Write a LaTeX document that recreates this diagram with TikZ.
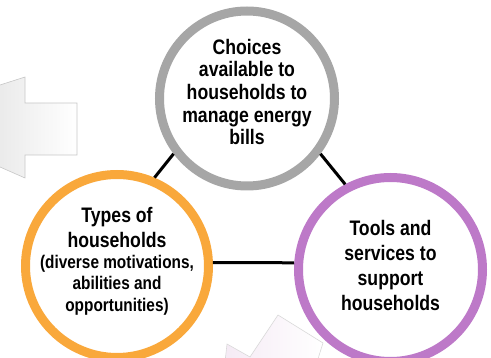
\documentclass[tikz,border=0pt]{standalone}
\usepackage{fontspec}
\setmainfont{Liberation Sans}[FakeStretch=0.84]
\definecolor{cgray}{HTML}{A6A6A6}
\definecolor{corange}{HTML}{F9A83B}
\definecolor{cpurple}{HTML}{BD79C8}
\begin{document}
\begin{tikzpicture}[x=1pt,y=-1pt,
  ring/.style={circle, line width=9pt, fill=white, inner sep=0pt},
  label/.style={align=center, inner sep=0pt, font=\bfseries\fontsize{21}{22.7}\selectfont},
  link/.style={line width=3pt, black},
  ghost/.style={draw=black!22, line width=0.6pt}]
\useasboundingbox (0,0) rectangle (491,358);
\begin{scope}
  \clip (0,0) rectangle (491,358);
  \path[ghost, left color=black!9, right color=white]
    (-10,88.2) -- (25,77) -- (25,103) -- (77,103) -- (77,155) -- (25,155) -- (25,178) -- (-10,162.6) -- cycle;
  \path[ghost, draw=black!15, left color=violet!8, right color=white]
    (225,362) -- (227,344) -- (250,357) -- (278,315) -- (323,343) -- (317,362) -- cycle;
\end{scope}
\node[ring, draw=cgray, minimum size=175pt] (top) at (247,98.5) {};
\node[ring, draw=corange, minimum size=183pt] (left) at (117,266) {};
\node[ring, draw=cpurple, minimum size=184pt] (right) at (390.5,269.5) {};
\draw[link] (left.67) -- (top.217);
\draw[link] (top.323) -- (right.118);
\draw[link] (left.2) -- (right.176);
\node[label] (toptext) at (247,92) {Choices\\available to\\households to\\manage energy\\bills};
\node[label, font=\bfseries\fontsize{18.3}{21.8}\selectfont] (lefttext) at (117,261.3)
  {\fontsize{21}{22}\selectfont Types of\\[3pt]\fontsize{21}{22}\selectfont households\\[-1pt](diverse motivations,\\abilities and\\opportunities)};
\node[label, font=\bfseries\fontsize{21}{25}\selectfont] (righttext) at (390.5,265)
  {Tools and\\services to\\support\\households};
\end{tikzpicture}
\end{document}
